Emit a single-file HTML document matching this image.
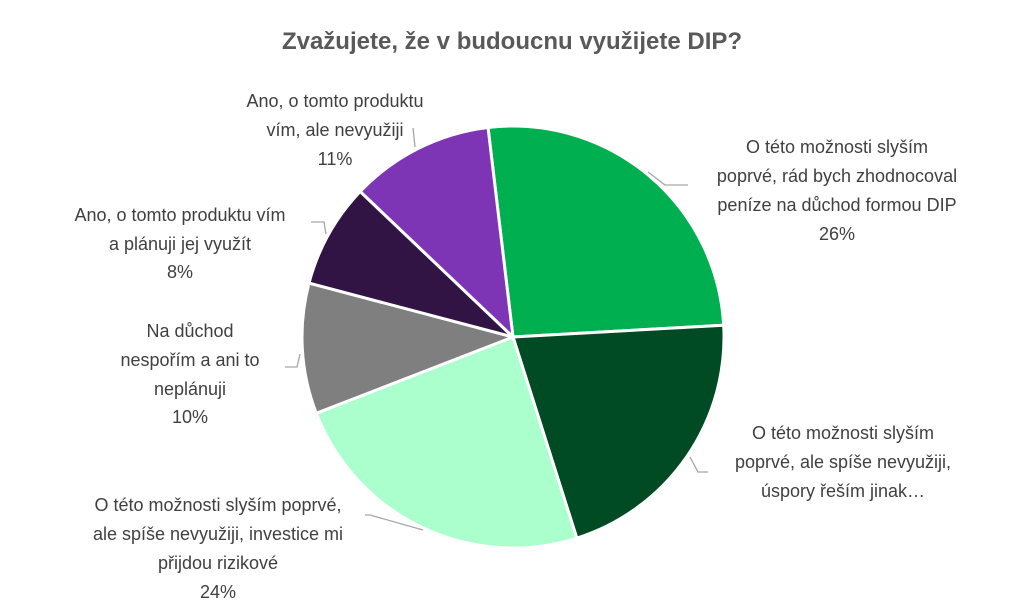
<!DOCTYPE html>
<html><head><meta charset="utf-8"><style>
body{margin:0;background:#fff;}
svg{display:block;font-family:"Liberation Sans","DejaVu Sans",sans-serif;}
.l{font-size:18px;fill:#404040;}
</style></head><body>
<svg id="chart" width="1024" height="610">
<text x="512" y="49" text-anchor="middle" font-size="24" font-weight="bold" fill="#595959">Zvažujete, že v budoucnu využijete DIP?</text>
<g id="slices"></g>
<g fill="none" stroke="#a6a6a6" stroke-width="1.3">
<polyline points="648,172 665,185 688,185"/>
<polyline points="690,457 698,472 708,472"/>
<polyline points="423,530 370,515 365,515"/>
<polyline points="300,354 297,367 285,367"/>
<polyline points="326,234 324,222 311,222"/>
<polyline points="415,147 413,128"/>
</g>
<g class="l" text-anchor="middle">
<text><tspan x="837" y="153">O této možnosti slyším</tspan><tspan x="837" y="182">poprvé, rád bych zhodnocoval</tspan><tspan x="837" y="211">peníze na důchod formou DIP</tspan><tspan x="837" y="240">26%</tspan></text>
<text><tspan x="843" y="439">O této možnosti slyším</tspan><tspan x="843" y="468">poprvé, ale spíše nevyužiji,</tspan><tspan x="843" y="497">úspory řeším jinak…</tspan></text>
<text><tspan x="218" y="511">O této možnosti slyším poprvé,</tspan><tspan x="218" y="540">ale spíše nevyužiji, investice mi</tspan><tspan x="218" y="569">přijdou rizikové</tspan><tspan x="218" y="598">24%</tspan></text>
<text><tspan x="190" y="337">Na důchod</tspan><tspan x="190" y="366">nespořím a ani to</tspan><tspan x="190" y="395">neplánuji</tspan><tspan x="190" y="423">10%</tspan></text>
<text><tspan x="180" y="221">Ano, o tomto produktu vím</tspan><tspan x="180" y="250">a plánuji jej využít</tspan><tspan x="180" y="278">8%</tspan></text>
<text><tspan x="335" y="107">Ano, o tomto produktu</tspan><tspan x="335" y="136">vím, ale nevyužiji</tspan><tspan x="335" y="165">11%</tspan></text>
</g>
</svg>
<script>
const categories=["O této možnosti slyším poprvé, rád bych zhodnocoval","O této možnosti slyším poprvé, ale spíše nevyužiji, úspory řeším jinak","O této možnosti slyším poprvé, investice rizikové","Na důchod nespořím","Ano, plánuji využít","Ano, ale nevyužiji"];
const values=[26,21,24,10,8,11];
const colors=["#00b050","#004b23","#aaffcc","#7f7f7f","#311443","#7d35b5"];
const cx=513,cy=337,r=211,start=-6.8;
const g=document.getElementById('slices');
const total=values.reduce((a,b)=>a+b,0);
let a=start;
values.forEach((v,i)=>{
  const a2=a+v/total*360;
  const p=d=>[cx+r*Math.sin(d*Math.PI/180),cy-r*Math.cos(d*Math.PI/180)];
  const [x1,y1]=p(a),[x2,y2]=p(a2);
  const path=document.createElementNS('http://www.w3.org/2000/svg','path');
  path.setAttribute('d',`M${cx},${cy}L${x1},${y1}A${r},${r} 0 ${a2-a>180?1:0} 1 ${x2},${y2}Z`);
  path.setAttribute('fill',colors[i]);
  path.setAttribute('stroke','#fff');
  path.setAttribute('stroke-width','3');
  
  
  g.appendChild(path);
  a=a2;
});
</script>
</body></html>
